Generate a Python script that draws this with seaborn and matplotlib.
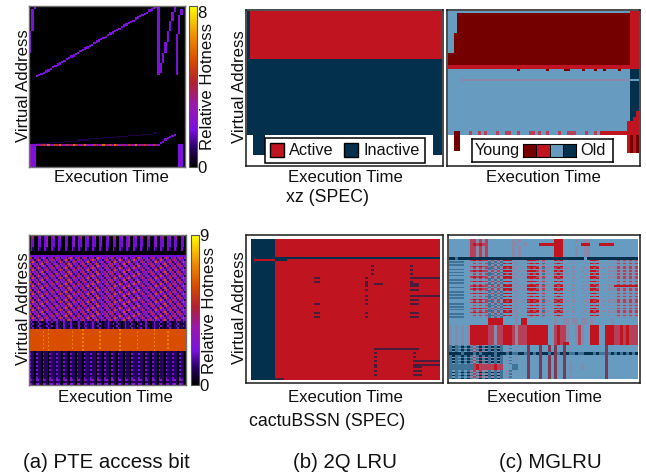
import numpy as np
import matplotlib
matplotlib.use("Agg")
import matplotlib.pyplot as plt
import seaborn as sns
from matplotlib.colors import LinearSegmentedColormap, ListedColormap
from matplotlib.patches import Patch

W, H = 646, 475
HEAT_ANCHORS = [(0, "#000000"), (0.12, "#2a0068"), (0.23, "#7a10e0"), (0.38, "#9a18b0"),
                (0.52, "#b02030"), (0.66, "#d84a00"), (0.82, "#f09000"), (1, "#ffff00")]
STATE_COLORS = ["#ffffff", "#03304c", "#679bbf", "#c01520", "#750000",
                "#8a88a8", "#b5405a", "#3f7398", "#7a3a55", "#4a1c3c"]

# xz hotness: address row per time column
xz_diag_rows = [60,59,58,57,56,55,54,52,51,50,49,48,47,45,44,43,42,41,40,38,37,36,35,34,33,31,30,29,28,27,
                26,24,23,22,21,20,19,17,16,15,14,13,12,10,9,8,7,6,5,3,2,1,0,0]
xz_faint_rows = [120,120,120,120,120,120,119,119,119,119,119,119,118,118,118,118,118,118,117,117,117,117,117,
                 116,116,116,116,116,116,115,115,115,115,115,115,114,114,114,114,114,113,113,113,113,113,113,
                 112,112,112,112,112,111,111]
xz_hot_vals = [3,2,4,5,3,6,2,3,5,4,6,3,2,5,3,4,6,5,2,3,4,6,3,2,3,5,4,2,3,6,4,3,5,2,6,5,3,4,3,2,5,4,3,6,2,4,
               3,5,4,3,2,5,3]
xz_right_rows = [120,118,117,115,114,113,112,111]
xz_span_cols = [0, 1, 2, 56, 57, 58, 59, 60, 61, 62, 63, 64, 65, 66, 0, 1, 2, 65, 66]
xz_span_top = [22, 3, 0, 0, 50, 41, 31, 22, 13, 5, 0, 24, 8, 3, 120, 120, 120, 120, 120]
xz_span_bot = [41, 22, 3, 60, 58, 50, 41, 31, 22, 13, 5, 60, 24, 8, 140, 140, 140, 140, 140]
xz_span_val = [2, 2, 2, 2, 2, 2, 2, 2, 2, 2, 2, 2, 2, 2, 3, 2, 2, 2, 2]

# xz 2Q LRU states (run-length rows)
xz_lru_rows = ["1:1 64:3", "65:1", "2:0 4:1 56:0 3:1", "65:0"]
xz_lru_reps = [24, 38, 10, 5]

# xz MGLRU states
xz_mg_rows = ["61:2 3:3", "3:2 58:4 3:3", "2:2 59:4 3:3", "61:4 3:3", "61:3 3:3",
              "23:2 1:4 9:2 1:4 5:2 2:4 4:2 1:4 3:2 1:4 2:2 1:4 4:2 1:4 3:2 3:1",
              "61:2 3:1", "4:2 57:5 3:2", "61:2 3:1", "61:2 2:1 1:3", "61:2 1:1 2:3", "60:2 4:3",
              "2:2 2:4 3:2 1:6 2:2 1:6 1:2 1:6 3:2 1:6 2:2 2:6 2:2 1:6 3:2 2:6 1:2 1:6 2:2 1:6 3:2 1:6 2:2 3:6 3:2 1:6 2:2 1:6 1:2 4:3",
              "2:0 2:4 56:0 1:3 1:4 1:3 1:4", "60:0 1:3 1:4 1:3 1:4", "64:0"]
xz_mg_reps = [1, 10, 10, 6, 2, 1, 4, 1, 15, 3, 2, 5, 2, 8, 1, 6]

# cactuBSSN hotness rows
cactus_hot_rows = {
    "A": "0240023002300240023002300230024002300230024002300240023002300230024002300230024002300240023002",
    "B": "0220022002300220022002200230022002200220023002200220022002300220022002200230022002200220022002",
    "C": "0210021002100210021002100210021002100210021002100210021002100210021002100210021002100210021002",
    "K": "0000000000000000000000000000000000000000000000000000000000000000000000000000000000000000000000",
    "L": "2222222222222222222222222222222222222222222222222222222222222222222222222222222222222222222222",
    "P": "63132413631324135313241363132413531324136313241353132413631324136313241353132413631324135313",
    "Q": "32413631324135313241363132413531324136313241353132413631324136313241353132413631324135313241",
    "R": "13631324135313241363132413531324136313241353132413631324136313241353132413631324135313241363",
    "S": "31324136313241353132413631324135313241363132413531324136313241363132413531324136313241353132",
    "X": "1210121011211201210121102100121021101211201011210112010121120102110121001211021012110120112101",
    "Y": "1120102110121001211021012110120112101210121011211201210121102100121021101211201011210112010121",
    "O": "6666666666676666666666666666666766666666666666666666676666666666666666666766666666666666666660",
    "T": "6666666676666666666666666766666666666666676666666666666666666667666666666666666667666666666660",
    "D": "1110111011101110111011101110111011101110111011101110111011101110111011101110111011101110111010",
    "E": "2110211021102110211021102110211021102110211021102110211021102110211021102110211021102110211020",
    "F": "3210231032102310321023103210231032102310321023103210231032102310321023103210231032102310321030",
}
cactus_hot_order = "AABBBBCCKKL" + "PQRSPQRSPQRSPQRSPQRSPQRSPQRSPQRS" + "XYXY" + "OTOTOTOTOTO" + "DEDEDEDEDEDEDEFDF"

# cactuBSSN 2Q LRU states
cactus_lru_rows = {
    "a": "8:1 55:3",
    "b": "63:1",
    "c": "1:1 7:3 4:1 51:3",
    "d": "8:1 32:3 1:9 12:3 1:9 9:3",
    "e": "8:1 13:3 2:9 15:3 1:9 14:3 10:9",
    "f": "8:1 13:3 2:9 15:3 1:9 14:3 1:9 9:3",
    "g": "8:1 30:3 1:9 2:3 3:9 9:3 3:9 7:3",
    "h": "8:1 30:3 1:9 14:3 3:9 7:3",
    "i": "8:1 30:3 1:9 14:3 10:9",
    "j": "8:1 13:3 2:9 15:3 1:9 14:3 3:9 7:3",
    "k": "8:1 33:3 15:9 7:3",
    "l": "8:1 33:3 1:9 12:3 1:9 8:3",
    "m": "8:1 33:3 1:9 12:3 9:9",
    "n": "8:1 33:3 1:9 12:3 3:9 6:3",
    "o": "8:1 3:9 52:3",
}
cactus_lru_order = "aaaaaaaaa" + "bc" + "aa" + "dadada" + "eaf" + "g" + "hahaaiahaj" + "aaa" + "jaja" + "aaaaaaaa" + "aaaaaa" + "k" + "alala" + "mam" + "nanana" + "o"

# cactuBSSN MGLRU states
cactus_mg_rows = {
    "u": "2222222 665656 22222 222 525 22 2222 222 22 333 22 22 52 255 222 22 222 22222222",
    "v": "2222222 636366 22222 222 552 25 2222 333 33 333 22 22 22 333 222 33 333 22222222",
    "n": "1171111 111111 11111 111 111 11 1111 111 11 111 11 11 11 121 111 11 111 11111111",
    "a": "2222222 636366 56565 333 525 25 3336 565 25 363 52 25 22 525 336 22 255 56565656",
    "b": "7777722 252525 75757 222 252 22 2522 252 22 252 22 22 22 222 252 22 222 25252525",
    "c": "2222222 565656 77575 363 552 52 6363 575 52 636 25 25 22 252 363 25 252 56565656",
    "t": "2222222 636366 56565 333 525 25 3336 565 25 363 52 25 22 525 336 22 255 33333333",
    "w": "2222222 222222 33333 222 252 33 2222 222 22 522 55 25 52 552 522 22 225 22222222",
    "p": "5252525 333333 66566 333 656 66 3333 333 22 636 65 22 56 522 333 22 333 66363666",
    "q": "5252525 333333 66566 333 656 66 3333 333 22 636 33 22 56 522 333 22 333 66363666",
    "g": "7177171 757171 71717 222 252 22 8222 822 82 822 82 22 22 222 222 22 822 22222222",
    "h": "1111711 171711 11711 171 771 17 8171 811 71 871 81 77 17 711 171 77 871 71717171",
    "i": "7272727 565655 75757 257 222 22 8222 822 82 822 82 52 22 222 222 22 822 22222222",
    "j": "7777777 763666 66366 222 772 22 8222 822 82 822 82 52 22 522 222 22 822 22222222",
}
cactus_mg_order = ("uuuvvuuuuuuu" + "nn" + "abcbacbabcbacbabc" + "t" + "bacbabcbacabcbabcabcb"
                   + "wwwww" + "pppppppppppqq" + "igigihhgigigijjjjigigig")

exec_label = "Execution Time"
addr_label = "Virtual Address"
hot_label = "Relative Hotness"
bench_labels = ["xz (SPEC)", "cactuBSSN (SPEC)"]
caption_labels = ["(a) PTE access bit", "(b) 2Q LRU", "(c) MGLRU"]
lru_legend = ["Active", "Inactive"]
mg_legend_levels = [4, 3, 2, 1]

sns.set_theme(style="white")
plt.rcParams["font.family"] = ["Liberation Sans", "DejaVu Sans"]
plt.rcParams["text.color"] = "#111111"
plt.rcParams["axes.labelcolor"] = "#111111"

heat_cmap = LinearSegmentedColormap.from_list("hot_pte", HEAT_ANCHORS)
state_cmap = ListedColormap(STATE_COLORS)
STATE_RANGE = dict(vmin=-0.5, vmax=9.5)
fig = plt.figure(figsize=(W / 100, H / 100), dpi=100, facecolor="white")


def px_axes(x0, y0, x1, y1, **kw):
    return fig.add_axes([x0 / W, 1 - y1 / H, (x1 - x0) / W, (y1 - y0) / H], **kw)


def fx(x):
    return x / W


def fy(y):
    return 1 - y / H


def rle(spec, n):
    out = ""
    for tok in spec.split():
        c, v = tok.split(":")
        out += v * int(c)
    return (out + out[-1] * n)[:n]


def to_matrix(strings, n):
    return np.array([[int(c) for c in (s + s[-1] * n)[:n]] for s in strings])


def rle_matrix(rows, reps, n):
    strings = []
    for r, k in zip(rows, reps):
        strings += [rle(r, n)] * k
    return to_matrix(strings, n)


def state_panel(frame, inner, mat):
    fa = px_axes(*frame)
    fa.set_xticks([]); fa.set_yticks([])
    for s in fa.spines.values():
        s.set_visible(True); s.set_color("#1a1a1a"); s.set_linewidth(1.1)
    ax = px_axes(*inner)
    sns.heatmap(mat, ax=ax, cmap=state_cmap, cbar=False,
                xticklabels=False, yticklabels=False, **STATE_RANGE)
    return fa


def label_xy(ax, text, x, y):
    ax.set_xlabel(text, fontsize=12.1, va="center", ha="center", labelpad=0)
    ax.xaxis.set_label_coords(fx(x), fy(y), transform=fig.transFigure)


def label_yy(ax, x, y):
    ax.set_ylabel(addr_label, fontsize=12.1, va="center", ha="center", rotation=90)
    ax.yaxis.set_label_coords(fx(x), fy(y), transform=fig.transFigure)


def hot_panel(rect, cb_rect, mat, vmax, tick, lab_x, lab_y, cb_lab_y):
    ax = px_axes(*rect)
    cax = px_axes(*cb_rect)
    sns.heatmap(mat, ax=ax, cmap=heat_cmap, vmin=0, vmax=vmax, cbar_ax=cax,
                xticklabels=False, yticklabels=False)
    for s in ax.spines.values():
        s.set_visible(True); s.set_color("#707070"); s.set_linewidth(1.0)
    cb = ax.collections[0].colorbar
    cb.set_ticks([0, tick])
    cb.set_ticklabels(["0", str(tick)])
    cb.ax.tick_params(length=0, pad=0.3, labelsize=12.1, labelcolor="#111111")
    cb.outline.set_visible(True); cb.outline.set_edgecolor("#555555"); cb.outline.set_linewidth(0.8)
    cb.set_label(hot_label, fontsize=12.1, rotation=90, va="center", ha="center", color="#111111")
    cb.ax.yaxis.set_label_coords(fx(cb_rect[2] + 10), fy(cb_lab_y), transform=fig.transFigure)
    label_xy(ax, exec_label, lab_x, lab_y)
    label_yy(ax, 24, (rect[1] + rect[3]) / 2 - 1)
    return ax


# ---- xz hotness
xz = np.zeros((140, 68))
for c, r0, r1, v in zip(xz_span_cols, xz_span_top, xz_span_bot, xz_span_val):
    xz[r0:r1, c] = v
for i, r in enumerate(xz_diag_rows):
    xz[r:r + 2, 3 + i] = 2
for i, r in enumerate(xz_faint_rows):
    xz[r - 1, 3 + i] = 0.7
for i, v in enumerate(xz_hot_vals):
    xz[120:122, 3 + i] = v
for i, r in enumerate(xz_right_rows):
    xz[r:r + 2, 56 + i] = 2
hot_panel((29, 6, 185, 167), (189, 6, 197, 167), xz, 8.3, 8, 111, 178, 86)

# ---- cactuBSSN hotness
cactus = to_matrix([cactus_hot_rows[k] for k in cactus_hot_order], 92)
hot_panel((29, 235, 186, 385), (191, 235, 199, 385), cactus, 9.0, 9, 115, 397, 310)

# ---- xz 2Q LRU
fa = state_panel((246, 10, 443, 166), (247, 11, 442, 165), rle_matrix(xz_lru_rows, xz_lru_reps, 65))
label_xy(fa, exec_label, 345, 178)
label_yy(fa, 239, 87)
handles = [Patch(facecolor=STATE_COLORS[3], edgecolor="black", linewidth=1, label=lru_legend[0]),
           Patch(facecolor=STATE_COLORS[1], edgecolor="black", linewidth=1, label=lru_legend[1])]
leg = fig.legend(handles=handles, ncol=2, loc="center", bbox_to_anchor=(fx(345), fy(150.5)),
                 bbox_transform=fig.transFigure, fontsize=11.7, frameon=True, fancybox=False,
                 framealpha=1, edgecolor="black", handlelength=0.85, handleheight=0.95,
                 handletextpad=0.35, columnspacing=0.65, borderpad=0.28, borderaxespad=0)
leg.get_frame().set_linewidth(1.1)

# ---- xz MGLRU
fa = state_panel((447, 10, 640, 166), (448, 11, 639, 165), rle_matrix(xz_mg_rows, xz_mg_reps, 64))
label_xy(fa, exec_label, 543, 178)
box = px_axes(472, 139, 613, 162)
box.set_xticks([]); box.set_yticks([])
for s in box.spines.values():
    s.set_visible(True); s.set_color("black"); s.set_linewidth(1.1)
box.text(fx(497), fy(150.5), "Young", transform=fig.transFigure, fontsize=11.7, ha="center", va="center")
box.text(fx(593), fy(150.5), "Old", transform=fig.transFigure, fontsize=11.7, ha="center", va="center")
sw = px_axes(523, 144, 576, 157)
sns.heatmap(np.array([mg_legend_levels]), ax=sw, cmap=state_cmap, cbar=False,
            xticklabels=False, yticklabels=False, linewidths=0.7, linecolor="black", **STATE_RANGE)
for s in sw.spines.values():
    s.set_visible(True); s.set_color("black"); s.set_linewidth(0.8)

# ---- cactuBSSN 2Q LRU
lru_strings = [rle(cactus_lru_rows[k], 63) for k in cactus_lru_order]
fa = state_panel((246, 235, 443, 383), (251, 239, 440, 380), to_matrix(lru_strings, 63))
label_xy(fa, exec_label, 345, 397)
label_yy(fa, 239, 308)

# ---- cactuBSSN MGLRU
mg_strings = [cactus_mg_rows[k].replace(" ", "") for k in cactus_mg_order]
fa = state_panel((448, 235, 640, 383), (449, 239, 638, 379), to_matrix(mg_strings, 63))
label_xy(fa, exec_label, 544, 397)

# ---- shared text
fig.text(fx(327), fy(198), bench_labels[0], fontsize=12.8, ha="center", va="center")
fig.text(fx(327), fy(421), bench_labels[1], fontsize=12.8, ha="center", va="center")
for label, x in zip(caption_labels, [106, 345, 550]):
    fig.text(fx(x), fy(462), label, fontsize=14.7, ha="center", va="center")

fig.savefig("out.png", dpi=100)
